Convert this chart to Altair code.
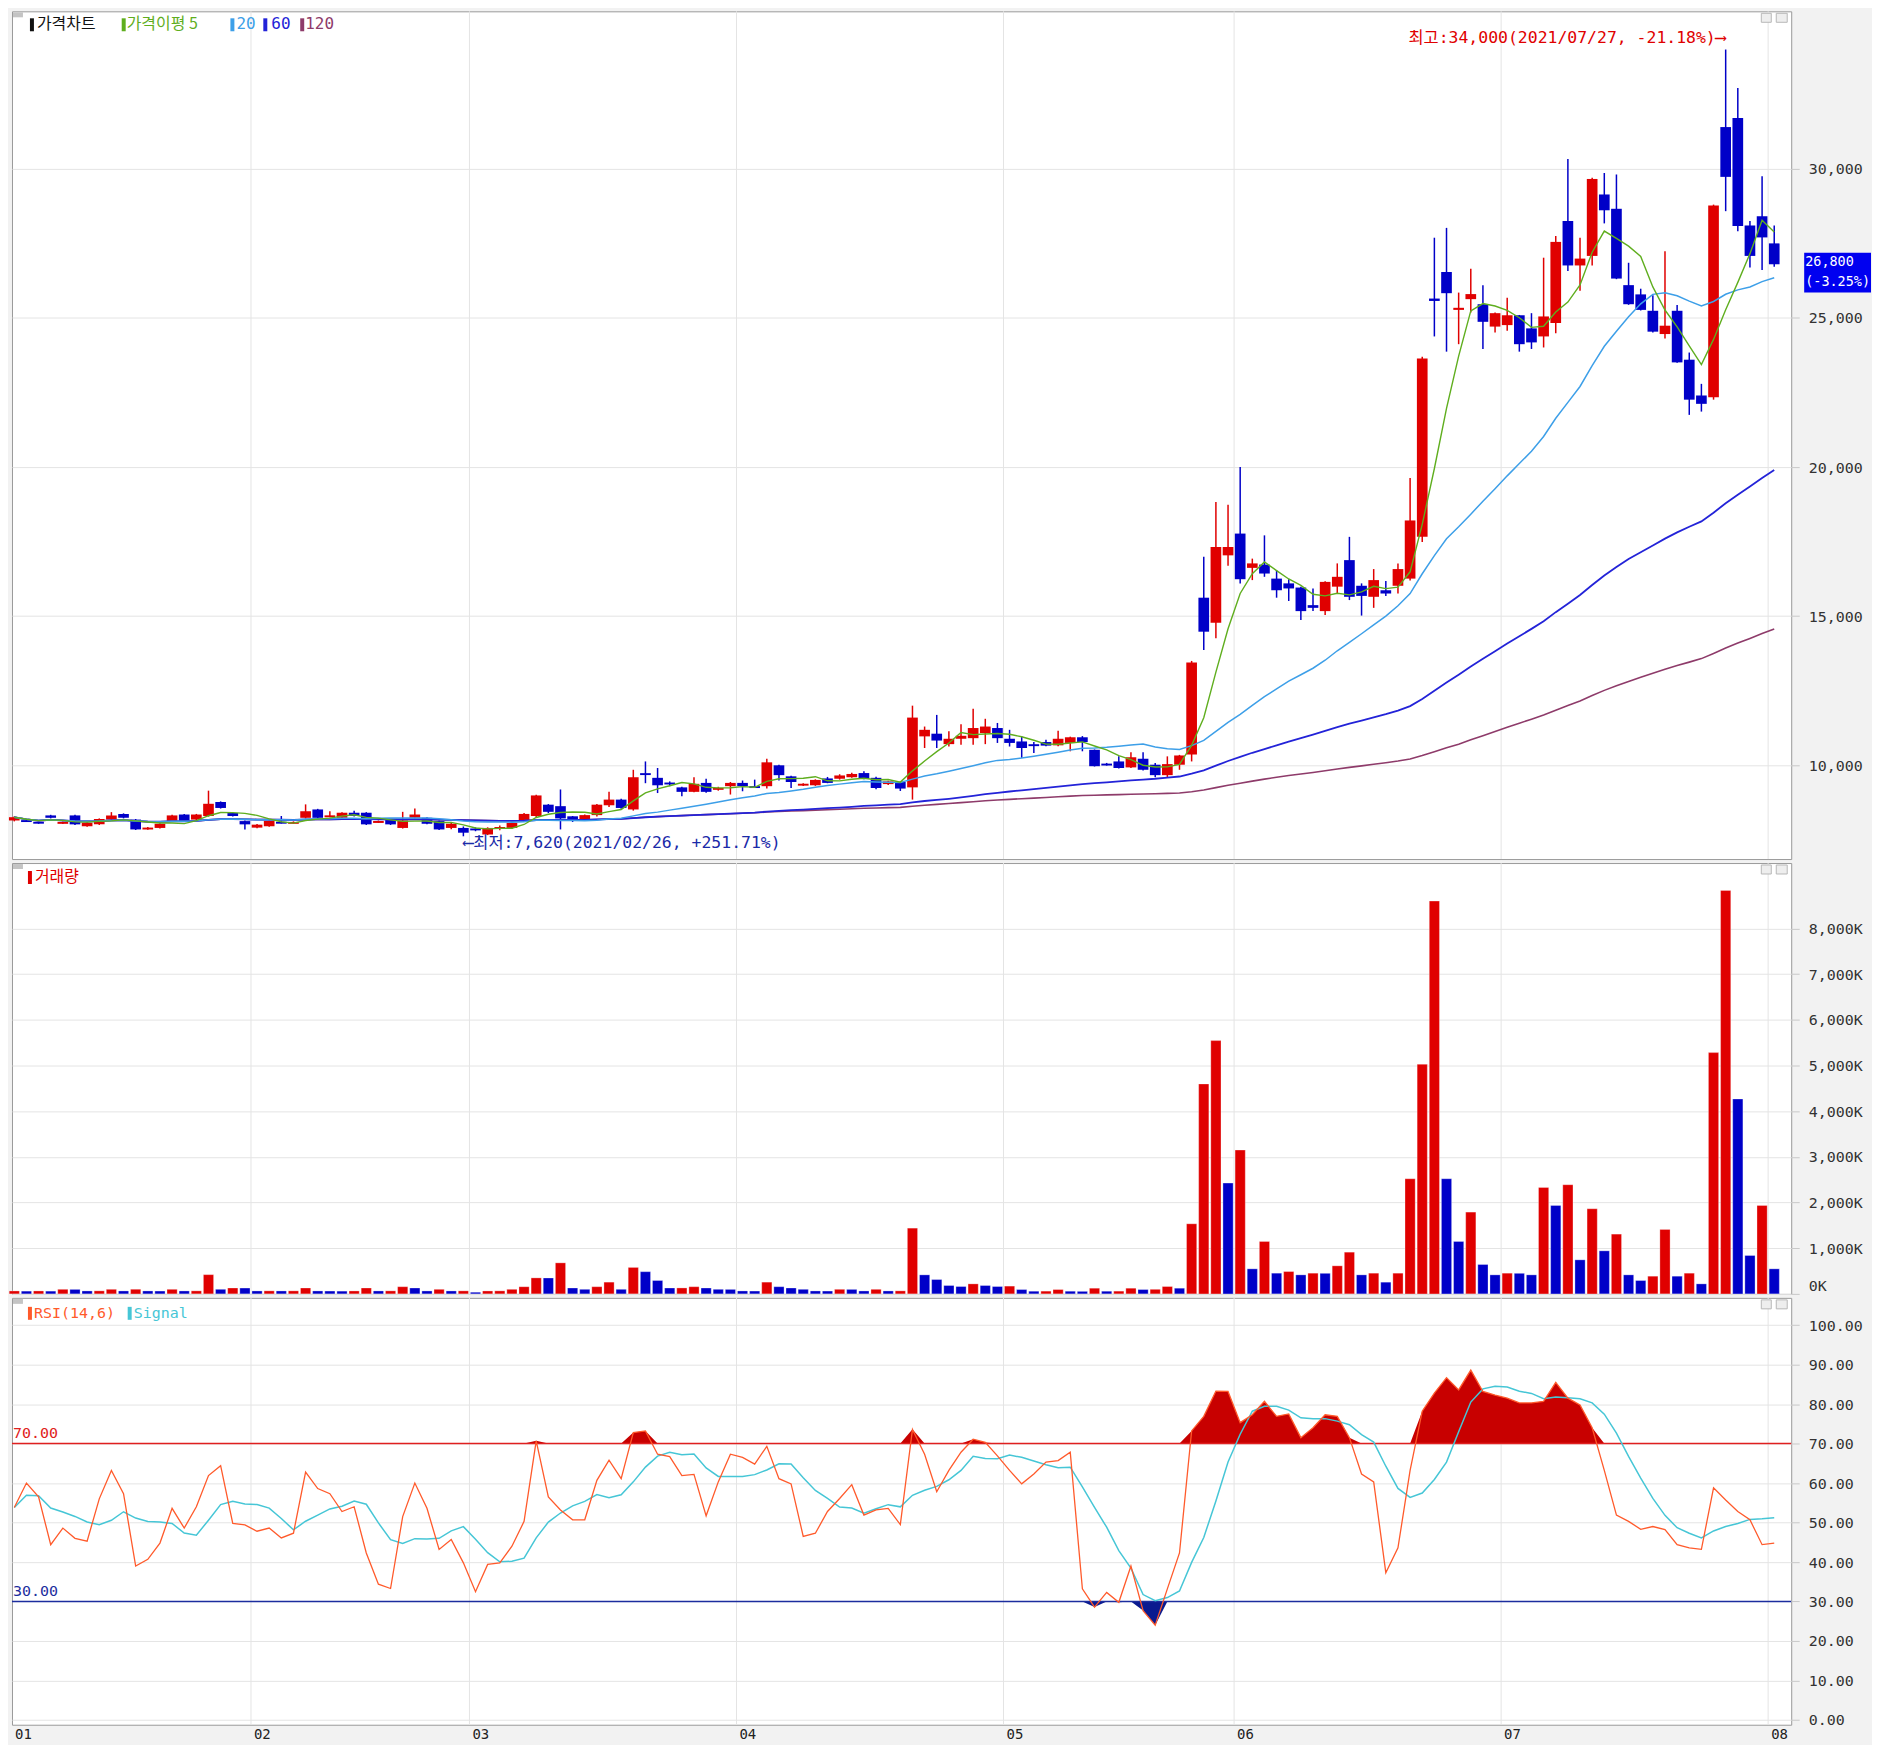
import altair as alt
import numpy as np
import pandas as pd

# ------------------------------------------------------------------ data
opens = [8150, 8140, 8090, 8320, 8060, 8320, 7960, 8020, 8180, 8370,
         8180, 7870, 7900, 8130, 8350, 8180, 8300, 8770, 8400, 8130,
         7910, 7960, 8080, 8060, 8240, 8520, 8280, 8240, 8410, 8410,
         8090, 8180, 7900, 8240, 8240, 8130, 7900, 7900, 7880, 7680,
         7880, 7900, 8150, 8300, 8680, 8630, 8290, 8180, 8330, 8660,
         8850, 8520, 9720, 9580, 9400, 9260, 9110, 9410, 9190, 9300,
         9410, 9280, 9300, 10000, 9630, 9330, 9330, 9560, 9550, 9600,
         9740, 9580, 9370, 9440, 9260, 10970, 11060, 10710, 10890, 10910,
         11080, 11250, 10890, 10800, 10690, 10780, 10670, 10750, 10940, 10520,
         10040, 10130, 9930, 10220, 10020, 9670, 10020, 10360, 15620, 14780,
         17040, 17770, 16620, 16730, 16260, 16100, 15960, 15370, 15170, 15990,
         16880, 16020, 15650, 15870, 16020, 16260, 17660, 25650, 26540, 25270,
         25630, 25460, 24710, 24760, 25090, 24650, 24380, 24830, 28250, 26760,
         27080, 29140, 28660, 26100, 25790, 25240, 24460, 25240, 23600, 22400,
         22340, 31400, 31700, 28100, 28410, 27500]
highs = [8290, 8180, 8110, 8340, 8120, 8340, 8090, 8220, 8430, 8390,
         8200, 7930, 8060, 8340, 8370, 8370, 9150, 8790, 8420, 8150,
         8030, 8150, 8300, 8120, 8690, 8540, 8460, 8430, 8480, 8430,
         8150, 8200, 8440, 8550, 8260, 8150, 8100, 7950, 7920, 7920,
         7980, 8100, 8400, 9010, 8700, 9190, 8300, 8350, 8700, 9110,
         8880, 9850, 10130, 9910, 9460, 9280, 9600, 9550, 9280, 9440,
         9490, 9520, 10220, 10020, 9650, 9400, 9530, 9610, 9700, 9750,
         9800, 9620, 9480, 9460, 12000, 11300, 11690, 11140, 11380, 11900,
         11560, 11420, 11190, 10970, 10780, 10860, 11160, 10960, 10980, 10530,
         10080, 10300, 10440, 10440, 10080, 10300, 10350, 13500, 16990, 18830,
         18740, 20000, 16930, 17710, 16540, 16240, 15990, 15930, 16170, 16770,
         17660, 16100, 16580, 16180, 16770, 19630, 23700, 27690, 28020, 25850,
         26650, 26100, 25180, 25680, 25100, 25160, 27020, 27750, 30330, 27690,
         29700, 29860, 29810, 26850, 25980, 25760, 27240, 25430, 23840, 22790,
         28800, 34000, 32710, 28250, 29750, 28100]
lows = [8120, 8100, 8040, 8220, 8030, 8000, 7940, 8000, 8160, 8220,
        7830, 7840, 7880, 8110, 8110, 8160, 8280, 8550, 8280, 7850,
        7890, 7940, 8050, 8040, 8220, 8220, 8260, 8220, 8280, 8000,
        8070, 8000, 7880, 8220, 8020, 7830, 7860, 7620, 7790, 7660,
        7820, 7870, 8120, 8250, 8400, 7850, 8100, 8150, 8280, 8600,
        8540, 8480, 9400, 9070, 9300, 8960, 9100, 9080, 9150, 9020,
        9130, 9240, 9220, 9490, 9240, 9310, 9310, 9400, 9520, 9580,
        9530, 9200, 9340, 9140, 8850, 10580, 10580, 10630, 10690, 10690,
        10710, 10750, 10630, 10250, 10410, 10640, 10640, 10470, 10470, 9960,
        9990, 9890, 9910, 9830, 9600, 9580, 9850, 10130, 13870, 14260,
        16690, 16100, 16210, 16320, 15620, 15510, 14870, 15170, 15040, 15760,
        15540, 15020, 15280, 15680, 15760, 16200, 17490, 24380, 23870, 24120,
        25180, 23960, 24510, 24570, 23870, 23960, 24010, 24490, 26570, 25910,
        26760, 28170, 26300, 25440, 25250, 24510, 24310, 23500, 21750, 21860,
        22260, 28580, 27910, 26690, 26610, 26720]
closes = [8260, 8120, 8060, 8240, 8080, 8020, 8070, 8200, 8320, 8240,
          7850, 7890, 8040, 8320, 8130, 8350, 8710, 8570, 8300, 8020,
          8010, 8130, 8070, 8080, 8460, 8240, 8300, 8410, 8300, 8020,
          8110, 8020, 8150, 8350, 8040, 7850, 8040, 7740, 7820, 7900,
          7920, 8070, 8370, 8990, 8440, 8220, 8160, 8330, 8680, 8850,
          8570, 9600, 9690, 9330, 9380, 9110, 9380, 9110, 9230, 9410,
          9300, 9260, 10100, 9670, 9440, 9370, 9510, 9410, 9660, 9710,
          9550, 9240, 9460, 9220, 11600, 11190, 10830, 10890, 10990, 11250,
          11300, 10910, 10750, 10580, 10660, 10660, 10890, 10940, 10780, 9970,
          10010, 9910, 10270, 9850, 9670, 10040, 10330, 13450, 14480, 17320,
          17320, 16240, 16770, 16430, 15870, 15930, 15170, 15280, 16150, 16320,
          15650, 15680, 16210, 15760, 16580, 18210, 23640, 25570, 25830, 25340,
          25800, 24870, 25160, 25090, 24120, 24180, 25050, 27550, 26760, 26990,
          29660, 28610, 26320, 25460, 25270, 24540, 24740, 23510, 22260, 22120,
          28770, 29730, 28080, 27080, 27700, 26800]
volume_k = [64, 60, 64, 60, 100, 98, 64, 66, 100, 64,
            100, 64, 62, 100, 64, 66, 421, 100, 129, 128,
            64, 66, 64, 66, 129, 64, 62, 60, 64, 129,
            64, 66, 157, 129, 64, 100, 64, 66, 36, 64,
            66, 100, 157, 350, 348, 679, 129, 100, 157, 257,
            100, 579, 486, 293, 129, 130, 157, 129, 100, 98,
            64, 62, 257, 157, 129, 100, 64, 62, 100, 98,
            64, 100, 64, 66, 1439, 416, 314, 183, 161, 219,
            183, 161, 170, 95, 58, 60, 95, 58, 55, 124,
            58, 60, 124, 95, 100, 161, 124, 1534, 4595, 5544,
            2425, 3148, 548, 1147, 453, 489, 416, 453, 450, 614,
            913, 416, 453, 256, 453, 2520, 5026, 8598, 2520, 1147,
            1790, 643, 416, 453, 450, 416, 2330, 1936, 2389, 745,
            1863, 942, 1308, 416, 292, 387, 1410, 387, 453, 219,
            5281, 8831, 4266, 840, 1936, 548]
rsi_values = [53.8, 60.0, 56.5, 44.4, 48.6, 46.0, 45.3, 56.0, 63.2, 57.3,
              39.0, 40.7, 44.8, 53.6, 48.6, 54.0, 61.9, 64.4, 49.8, 49.4,
              47.8, 48.6, 46.1, 47.3, 62.8, 58.6, 57.3, 52.8, 54.0, 42.3,
              34.4, 33.3, 51.5, 60.0, 53.6, 43.2, 45.7, 39.8, 32.5, 39.4,
              39.8, 44.0, 50.3, 70.7, 56.5, 53.2, 50.7, 50.7, 60.7, 65.8,
              61.1, 72.8, 73.2, 67.3, 66.7, 61.9, 62.2, 51.7, 60.3, 67.3,
              66.5, 64.8, 69.3, 61.1, 59.8, 46.5, 47.3, 52.8, 56.1, 59.6,
              51.9, 53.2, 53.6, 49.5, 73.6, 67.3, 57.8, 63.2, 67.8, 71.1,
              70.3, 66.9, 63.2, 59.8, 62.3, 65.3, 65.7, 67.8, 33.2, 28.6,
              32.3, 29.8, 39.0, 27.7, 24.0, 33.2, 42.3, 73.2, 76.9, 83.3,
              83.2, 75.3, 77.3, 80.7, 76.9, 77.5, 71.5, 74.0, 77.3, 76.9,
              71.5, 62.3, 60.3, 37.3, 43.6, 63.2, 78.2, 82.8, 86.7, 83.6,
              88.6, 83.2, 82.3, 81.5, 80.3, 80.3, 80.7, 85.5, 81.5, 79.8,
              74.0, 63.2, 51.9, 50.3, 48.3, 49.0, 48.2, 44.4, 43.6, 43.2,
              58.8, 55.7, 52.8, 50.7, 44.4, 44.8]
holidays = ["2021-01-01", "2021-02-11", "2021-02-12", "2021-03-01",
            "2021-05-05", "2021-05-19"]
price_ticks = [10000, 15000, 20000, 25000, 30000]
volume_ticks = [0, 1000, 2000, 3000, 4000, 5000, 6000, 7000, 8000]
rsi_ticks = [0, 10, 20, 30, 40, 50, 60, 70, 80, 90, 100]
rsi_levels = [70, 30]

# ------------------------------------------------------------------ frame
dates = [d for d in pd.bdate_range("2021-01-04", "2021-08-02")
         if d.strftime("%Y-%m-%d") not in holidays]
n = len(closes)
dates = dates[:n]

df = pd.DataFrame({
    "i": np.arange(n),
    "date": [d.strftime("%Y/%m/%d") for d in dates],
    "open": opens, "high": highs, "low": lows, "close": closes,
    "vol": volume_k, "rsi": rsi_values,
})
df["dir"] = np.where(df["close"] >= df["open"], "up", "down")
df["vdir"] = np.where(df["vol"] > df["vol"].shift(1).fillna(0), "up", "down")

months = [d.month for d in dates]
bounds = [k - 0.5 for k in range(1, n) if months[k] != months[k - 1]]
X0, X1 = -0.19, 146.4
month_df = pd.DataFrame({"b": [X0] + bounds,
                         "label": [f"{m:02d}" for m in sorted(set(months))]})
grid_df = pd.DataFrame({"b": bounds})

hi_i = int(np.argmax(highs))
lo_i = int(np.argmin(lows))
last, prev = closes[-1], closes[-2]
hi_text = f"최고:{highs[hi_i]:,}({df['date'][hi_i]}, {(last / highs[hi_i] - 1) * 100:+.2f}%)⟶"
lo_text = f"⟵최저:{lows[lo_i]:,}({df['date'][lo_i]}, {(last / lows[lo_i] - 1) * 100:+.2f}%)"
ann_df = pd.DataFrame({"i": [hi_i, lo_i], "t": [hi_text, lo_text]})
cur_df = pd.DataFrame({"p": [last], "t1": [f"{last:,}"],
                       "t2": [f"({(last / prev - 1) * 100:+.2f}%)"]})

# ------------------------------------------------------------------ style
W = 1784
PH, VH, RH = 850, 432, 428
RED, BLUE = "#e00000", "#0000c8"
C5, C20, C60, C120 = "#5fae1e", "#3d9fe8", "#2323d8", "#8e3b6a"
CRSI, CSIG = "#ff5a2b", "#46c6d6"
GRID = "#e4e4e4"
NUM = "DejaVu Sans Mono"
KR = "Noto Sans CJK KR"
MIX = "DejaVu Sans Mono, DejaVu Sans, Noto Sans CJK KR"
AX_EXT = 80
VIEW = alt.ViewBackground(fill="white", stroke="#9a9a9a", strokeWidth=1)

xs = alt.Scale(domain=[X0, X1], nice=False, zero=False)
xenc = alt.X("i:Q", scale=xs, axis=None)
col_scale = alt.Scale(domain=["up", "down"], range=[RED, BLUE])


def right_axis(values, expr, flush=False):
    return alt.Axis(orient="right", values=values, grid=True, gridColor=GRID,
                    domain=False, ticks=True, tickSize=8, tickColor="#c8c8c8",
                    labelPadding=9, labelFont=NUM, labelFontSize=15,
                    labelColor="#333333", title=None, minExtent=AX_EXT,
                    maxExtent=AX_EXT, labelAlign="left", labelExpr=expr,
                    labelFlush=flush)


def label(text, x, y, color, size=16, font=KR, align="left"):
    return alt.Chart(pd.DataFrame({"t": [text]})).mark_text(
        x=x, y=y, align=align, baseline="middle", color=color,
        fontSize=size, font=font).encode(text="t:N")


def swatch(x, y, color):
    return alt.Chart(pd.DataFrame({"t": [0]})).mark_rect(
        color=color).encode(x=alt.value(x), x2=alt.value(x + 4),
                            y=alt.value(y - 6), y2=alt.value(y + 7))


def handles():
    """small grey panel handle (top-left) and the two window icons (top-right)"""
    d = pd.DataFrame({"t": [0]})
    h = alt.Chart(d).mark_rect(color="#c4c4c4").encode(
        x=alt.value(1), x2=alt.value(11), y=alt.value(1), y2=alt.value(6))
    b1 = alt.Chart(d).mark_rect(fill="#eeeeee", stroke="#b8b8b8").encode(
        x=alt.value(W - 30), x2=alt.value(W - 20), y=alt.value(2), y2=alt.value(11))
    b2 = alt.Chart(d).mark_rect(fill="#eeeeee", stroke="#b8b8b8").encode(
        x=alt.value(W - 15), x2=alt.value(W - 4), y=alt.value(2), y2=alt.value(11))
    return [h, b1, b2]


def vgrid():
    return alt.Chart(grid_df).mark_rule(color=GRID, strokeWidth=1).encode(
        x=alt.X("b:Q", scale=xs, axis=None))


# ------------------------------------------------------------------ price
py = alt.Scale(domain=[6857, 35281], nice=False, zero=False)
paxis = right_axis(price_ticks, "format(datum.value, ',')")
base = alt.Chart(df)

wicks = base.mark_rule(strokeWidth=1.5).encode(
    x=xenc, y=alt.Y("low:Q", scale=py, axis=paxis), y2="high:Q",
    color=alt.Color("dir:N", scale=col_scale, legend=None))
bodies = base.transform_calculate(
    xl="datum.i - 0.44", xr="datum.i + 0.44",
    mid="(datum.open + datum.close) / 2",
    top="max(max(datum.open, datum.close), datum.mid + 32)",
    bot="min(min(datum.open, datum.close), datum.mid - 32)",
).mark_rect().encode(
    x=alt.X("xl:Q", scale=xs, axis=None), x2="xr:Q",
    y=alt.Y("bot:Q", scale=py, axis=paxis), y2="top:Q",
    color=alt.Color("dir:N", scale=col_scale, legend=None))


def ma_line(k, color, width):
    name = f"ma{k}"
    return base.transform_window(
        **{name: "mean(close)"}, frame=[-(k - 1), 0],
        sort=[alt.SortField("i")]).mark_line(
        color=color, strokeWidth=width).encode(
        x=xenc, y=alt.Y(f"{name}:Q", scale=py, axis=paxis))


ann_hi = alt.Chart(ann_df.iloc[[0]]).mark_text(
    align="right", baseline="middle", color="#e00000", fontSize=16.5,
    font=MIX).encode(x=alt.X("i:Q", scale=xs, axis=None),
                     y=alt.value(27), text="t:N")
ann_lo = alt.Chart(ann_df.iloc[[1]]).mark_text(
    align="left", baseline="middle", color="#1a2aa8", fontSize=16.5,
    font=MIX).encode(x=alt.X("i:Q", scale=xs, axis=None),
                     y=alt.value(PH - 16), text="t:N")

cur_box = alt.Chart(cur_df).transform_calculate(
    a="datum.p + 390", b="datum.p - 950").mark_rect(color="#0000f0").encode(
    x=alt.value(W + 13), x2=alt.value(W + 80),
    y=alt.Y("a:Q", scale=py, axis=paxis), y2="b:Q")
cur_t1 = alt.Chart(cur_df).mark_text(
    align="left", baseline="middle", color="white", fontSize=13.5, font=NUM,
    dy=-2).encode(x=alt.value(W + 14),
                  y=alt.Y("p:Q", scale=py, axis=paxis), text="t1:N")
cur_t2 = alt.Chart(cur_df).mark_text(
    align="left", baseline="middle", color="white", fontSize=13.5, font=NUM,
    dy=18).encode(x=alt.value(W + 14),
                  y=alt.Y("p:Q", scale=py, axis=paxis), text="t2:N")

LY = 13
price = alt.layer(
    vgrid(), wicks, bodies,
    ma_line(120, C120, 1.6), ma_line(60, C60, 1.8),
    ma_line(20, C20, 1.5), ma_line(5, C5, 1.4),
    ann_hi, ann_lo, cur_box, cur_t1, cur_t2, *handles(),
    swatch(18, LY, "#111111"), label("가격차트", 25, LY, "#111111"),
    swatch(110, LY, C5), label("가격이평 5", 115, LY, C5),
    swatch(219, LY, C20), label("20", 225, LY, C20, font=NUM, size=16),
    swatch(252, LY, C60), label("60", 260, LY, C60, font=NUM, size=16),
    swatch(289, LY, C120), label("120", 294, LY, C120, font=NUM, size=16),
).properties(width=W, height=PH, view=VIEW)

# ------------------------------------------------------------------ volume
vy = alt.Scale(domain=[0, 9430], nice=False, zero=False)
vaxis = right_axis(volume_ticks, "format(datum.value, ',') + 'K'", flush=True)
vbars = base.transform_calculate(
    xl="datum.i - 0.42", xr="datum.i + 0.42", z="0").mark_rect(
    strokeWidth=0.6, strokeOpacity=0.5).encode(
    x=alt.X("xl:Q", scale=xs, axis=None), x2="xr:Q",
    y=alt.Y("vol:Q", scale=vy, axis=vaxis), y2="z:Q",
    color=alt.Color("vdir:N", scale=col_scale, legend=None),
    stroke=alt.value("#ffffff"))
volume = alt.layer(
    vgrid(), vbars, *handles(),
    swatch(16, 14, RED), label("거래량", 23, 14, RED, size=16),
).properties(width=W, height=VH, view=VIEW)

# ------------------------------------------------------------------ RSI
ry = alt.Scale(domain=[-1.2, 106.9], nice=False, zero=False)
raxis = right_axis(rsi_ticks, "format(datum.value, '.2f')")
rbase = base.transform_window(sig="mean(rsi)", frame=[-5, 0],
                              sort=[alt.SortField("i")])
fill_hi = base.transform_calculate(hi="max(datum.rsi, 70)").mark_area(
    color="#c80000").encode(x=xenc, y=alt.Y("hi:Q", scale=ry, axis=raxis),
                            y2=alt.datum(70))
fill_lo = base.transform_calculate(lo="min(datum.rsi, 30)").mark_area(
    color="#0a1a8f").encode(x=xenc, y=alt.Y("lo:Q", scale=ry, axis=raxis),
                            y2=alt.datum(30))
lvl_df = pd.DataFrame({"lv": rsi_levels, "c": ["#e02020", "#1c2d9e"],
                       "t": [f"{v:.2f}" for v in rsi_levels]})
levels = alt.Chart(lvl_df).mark_rule(strokeWidth=1.6).encode(
    y=alt.Y("lv:Q", scale=ry, axis=raxis),
    color=alt.Color("c:N", scale=None, legend=None))
lvl_txt = alt.Chart(lvl_df).mark_text(
    align="left", baseline="middle", dy=-11, fontSize=15, font=NUM).encode(
    x=alt.value(1), y=alt.Y("lv:Q", scale=ry, axis=raxis), text="t:N",
    color=alt.Color("c:N", scale=None, legend=None))
sig_line = rbase.mark_line(color=CSIG, strokeWidth=1.5).encode(
    x=xenc, y=alt.Y("sig:Q", scale=ry, axis=raxis))
rsi_line = base.mark_line(color=CRSI, strokeWidth=1.3).encode(
    x=xenc, y=alt.Y("rsi:Q", scale=ry, axis=raxis))
mlabels = alt.Chart(month_df).mark_text(
    align="left", baseline="middle", dx=3, fontSize=14, font=NUM,
    color="#222222").encode(x=alt.X("b:Q", scale=xs, axis=None),
                            y=alt.value(RH + 10), text="label:N")
rsi = alt.layer(
    vgrid(), fill_hi, fill_lo, levels, lvl_txt, sig_line, rsi_line, mlabels,
    *handles(),
    swatch(16, 15, CRSI), label("RSI(14,6)", 22, 15, CRSI, font=NUM, size=15),
    swatch(116, 15, CSIG), label("Signal", 122, 15, CSIG, font=NUM, size=15),
).properties(width=W, height=RH, view=VIEW)

chart = alt.vconcat(price, volume, rsi, spacing=2).properties(
    padding=0, background="#f2f2f2"
).configure_view(stroke="#9a9a9a", strokeWidth=1, fill="white")

chart.save("out.html", embed_options={"renderer": "svg", "actions": False})
